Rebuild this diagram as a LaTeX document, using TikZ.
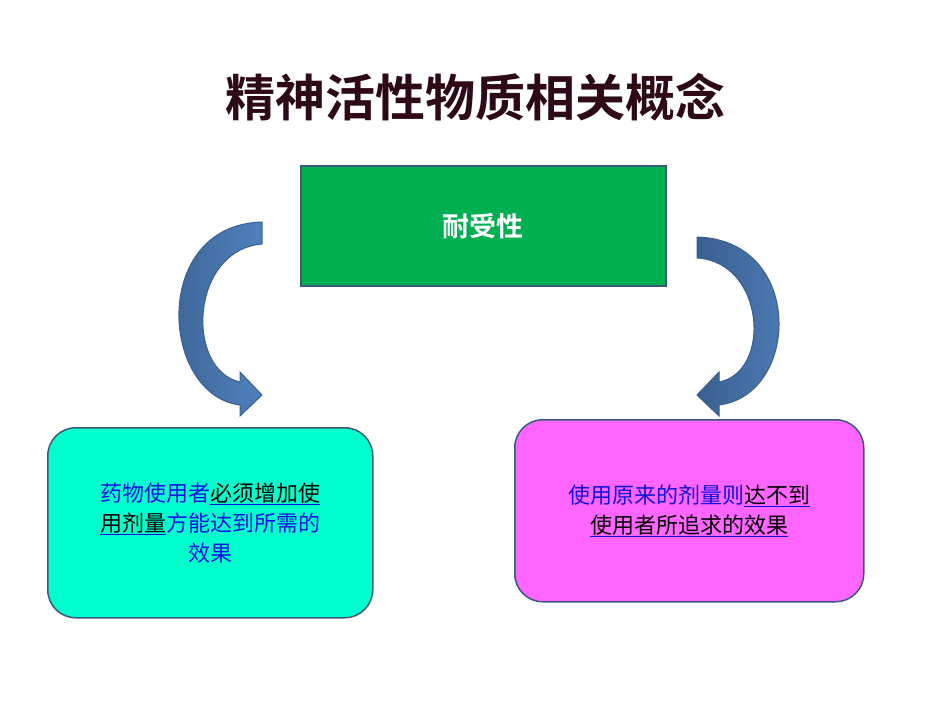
\documentclass[tikz,border=0pt]{standalone}
\usepackage{fontspec}
\newfontfamily\cjk[BoldFont=Noto Sans CJK SC Bold]{Noto Sans CJK SC}
\definecolor{titlered}{HTML}{2E0A18}
\definecolor{boxedge}{HTML}{3B5A7A}
\definecolor{arrowblue}{HTML}{4F81BD}
\definecolor{arrowdark}{HTML}{3A5F8F}
\definecolor{txtblue}{HTML}{1010E0}
\definecolor{tolgreen}{HTML}{00B050}
\definecolor{morecyan}{HTML}{00FFCC}
\definecolor{lesspink}{HTML}{FF66FF}
\begin{document}
\begin{tikzpicture}[x=1pt,y=-1pt,
    box/.style={draw=boxedge, line width=1.5pt, anchor=north west, inner sep=0pt},
    note/.style={font=\cjk\fontsize{22}{30}\selectfont, align=center},
    curl/.style={draw=arrowdark, line width=1pt, left color=arrowdark, right color=arrowblue}
]
\useasboundingbox (0,0) rectangle (950,713);
\newcommand{\ul}[1]{\underline{\textcolor{black}{#1}}}

\node[font=\cjk\bfseries\fontsize{50}{56}\selectfont, text=titlered] (title) at (475,97) {精神活性物质相关概念};

% top box
\node[box, fill=tolgreen, minimum width=365pt, minimum height=120pt] (tol) at (300,165) {};
\node[font=\cjk\bfseries\fontsize{27}{30}\selectfont, text=white] at (tol.center) {耐受性};

% lower boxes
\node[box, rounded corners=28pt, fill=morecyan, minimum width=325pt, minimum height=190pt] (more) at (47,427) {};
\node[note, text=txtblue] at (more.center) {药物使用者\ul{必须增加使}\\\ul{用剂量}方能达到所需的\\效果};

\node[box, rounded corners=28pt, fill=lesspink, minimum width=349pt, minimum height=182pt] (less) at (514,419) {};
\node[note, text=txtblue] at (less.center) {使用原来的剂量则\ul{达不到}\\\ul{使用者所追求的效果}};

% curved arrows
\path[curl] (262,222) -- (262,244) .. controls (190,250) and (185,370) .. (240,382)
  -- (240,372) -- (262,395) -- (240,416) -- (240,405)
  .. controls (160,395) and (150,225) .. cycle;
\path[curl] (697,237) -- (697,258) .. controls (765,262) and (772,372) .. (719,382)
  -- (719,372) -- (697,395) -- (719,416) -- (719,405)
  .. controls (800,395) and (805,240) .. cycle;
\end{tikzpicture}
\end{document}
